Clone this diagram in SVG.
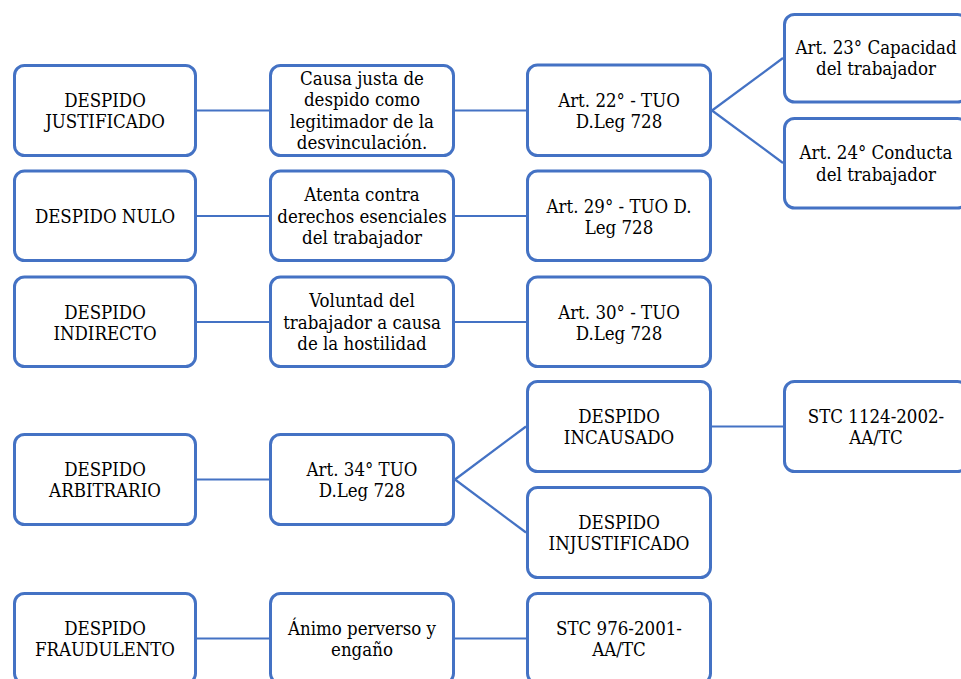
<svg xmlns="http://www.w3.org/2000/svg" width="961" height="679" viewBox="0 0 961 679">
  <style>
    .box { fill: #ffffff; stroke: #4472C4; stroke-width: 3; }
    .link { stroke: #4472C4; stroke-width: 2.2; fill: none; }
    .lbl { font-family: "DejaVu Serif Condensed", "DejaVu Serif", serif; font-stretch: condensed; font-size: 18.5px; fill: #000000; text-anchor: middle; }
  </style>
  <rect width="961" height="679" fill="#ffffff"/>

  <!-- connectors -->
  <g id="connectors">
    <line class="link" x1="197" y1="110.5" x2="269" y2="110.5"/>
    <line class="link" x1="455" y1="110.5" x2="526" y2="110.5"/>
    <line class="link" x1="712" y1="110.5" x2="783" y2="58"/>
    <line class="link" x1="712" y1="110.5" x2="783" y2="163"/>
    <line class="link" x1="197" y1="216" x2="269" y2="216"/>
    <line class="link" x1="455" y1="216" x2="526" y2="216"/>
    <line class="link" x1="197" y1="322" x2="269" y2="322"/>
    <line class="link" x1="455" y1="322" x2="526" y2="322"/>
    <line class="link" x1="197" y1="479.5" x2="269" y2="479.5"/>
    <line class="link" x1="455" y1="479.5" x2="526" y2="426.5"/>
    <line class="link" x1="455" y1="479.5" x2="526" y2="532.5"/>
    <line class="link" x1="712" y1="426.5" x2="783" y2="426.5"/>
    <line class="link" x1="197" y1="638.5" x2="269" y2="638.5"/>
    <line class="link" x1="455" y1="638.5" x2="526" y2="638.5"/>
  </g>

  <g class="lbl">
  <!-- row 1 -->
  <g id="despido-justificado">
    <rect class="box" x="14.5" y="65.5" width="181" height="90" rx="10"/>
    <text x="105" y="106.8">DESPIDO</text>
    <text x="105" y="128">JUSTIFICADO</text>
  </g>
  <g id="causa-justa">
    <rect class="box" x="270.5" y="65.5" width="183" height="90" rx="10"/>
    <text x="362" y="85">Causa justa de</text>
    <text x="362" y="106.3">despido como</text>
    <text x="362" y="127.6">legitimador de la</text>
    <text x="362" y="148.9">desvinculación.</text>
  </g>
  <g id="art22">
    <rect class="box" x="527.5" y="65" width="183" height="90.5" rx="10"/>
    <text x="619" y="106.5">Art. 22° - TUO</text>
    <text x="619" y="127.8">D.Leg 728</text>
  </g>
  <g id="art23">
    <rect class="box" x="784.5" y="14.5" width="183" height="87.5" rx="10"/>
    <text x="876" y="54">Art. 23° Capacidad</text>
    <text x="876" y="75.3">del trabajador</text>
  </g>
  <g id="art24">
    <rect class="box" x="784.5" y="118.5" width="183" height="89.5" rx="10"/>
    <text x="876" y="159.3">Art. 24° Conducta</text>
    <text x="876" y="180.6">del trabajador</text>
  </g>

  <!-- row 2 -->
  <g id="despido-nulo">
    <rect class="box" x="14.5" y="171" width="181" height="89.5" rx="10"/>
    <text x="105" y="223">DESPIDO NULO</text>
  </g>
  <g id="derechos-esenciales">
    <rect class="box" x="270.5" y="171" width="183" height="89.5" rx="10"/>
    <text x="362" y="201.3">Atenta contra</text>
    <text x="362" y="222.6">derechos esenciales</text>
    <text x="362" y="243.9">del trabajador</text>
  </g>
  <g id="art29">
    <rect class="box" x="527.5" y="171" width="183" height="89.5" rx="10"/>
    <text x="619" y="212.5">Art. 29° - TUO D.</text>
    <text x="619" y="233.8">Leg 728</text>
  </g>

  <!-- row 3 -->
  <g id="despido-indirecto">
    <rect class="box" x="14.5" y="277" width="181" height="89.5" rx="10"/>
    <text x="105" y="318.5">DESPIDO</text>
    <text x="105" y="339.8">INDIRECTO</text>
  </g>
  <g id="voluntad">
    <rect class="box" x="270.5" y="277" width="183" height="89.5" rx="10"/>
    <text x="362" y="307.3">Voluntad del</text>
    <text x="362" y="328.6">trabajador a causa</text>
    <text x="362" y="349.9">de la hostilidad</text>
  </g>
  <g id="art30">
    <rect class="box" x="527.5" y="277" width="183" height="89.5" rx="10"/>
    <text x="619" y="318.5">Art. 30° - TUO</text>
    <text x="619" y="339.8">D.Leg 728</text>
  </g>

  <!-- row 4 -->
  <g id="despido-arbitrario">
    <rect class="box" x="14.5" y="434.5" width="181" height="90" rx="10"/>
    <text x="105" y="476">DESPIDO</text>
    <text x="105" y="497.3">ARBITRARIO</text>
  </g>
  <g id="art34">
    <rect class="box" x="270.5" y="434.5" width="183" height="90" rx="10"/>
    <text x="362" y="476">Art. 34° TUO</text>
    <text x="362" y="497.3">D.Leg 728</text>
  </g>
  <g id="despido-incausado">
    <rect class="box" x="527.5" y="381.5" width="183" height="90" rx="10"/>
    <text x="619" y="423">DESPIDO</text>
    <text x="619" y="444.3">INCAUSADO</text>
  </g>
  <g id="despido-injustificado">
    <rect class="box" x="527.5" y="487.5" width="183" height="90" rx="10"/>
    <text x="619" y="529">DESPIDO</text>
    <text x="619" y="550.3">INJUSTIFICADO</text>
  </g>
  <g id="stc1124">
    <rect class="box" x="784.5" y="381.5" width="183" height="90" rx="10"/>
    <text x="876" y="423">STC 1124-2002-</text>
    <text x="876" y="444.3">AA/TC</text>
  </g>

  <!-- row 5 -->
  <g id="despido-fraudulento">
    <rect class="box" x="14.5" y="593.5" width="181" height="90" rx="10"/>
    <text x="105" y="634.5">DESPIDO</text>
    <text x="105" y="655.8">FRAUDULENTO</text>
  </g>
  <g id="animo-perverso">
    <rect class="box" x="270.5" y="593.5" width="183" height="90" rx="10"/>
    <text x="362" y="634.5">Ánimo perverso y</text>
    <text x="362" y="655.8">engaño</text>
  </g>
  <g id="stc976">
    <rect class="box" x="527.5" y="593.5" width="183" height="90" rx="10"/>
    <text x="619" y="634.5">STC 976-2001-</text>
    <text x="619" y="655.8">AA/TC</text>
  </g>
  </g>
</svg>
